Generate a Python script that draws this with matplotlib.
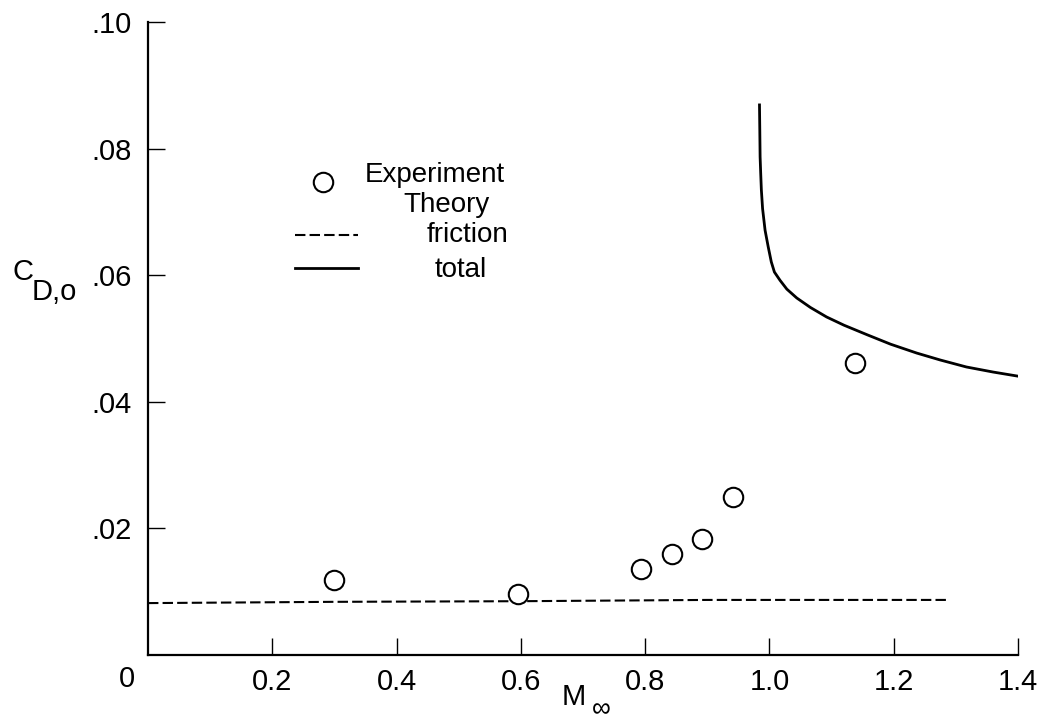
import matplotlib
matplotlib.use("Agg")
import matplotlib.pyplot as plt

plt.rcParams['font.family'] = ['Liberation Sans', 'DejaVu Sans']

# experiment
mach_exp = [0.30, 0.596, 0.793, 0.843, 0.891, 0.942, 1.138]
cd_exp = [0.0119, 0.0097, 0.0136, 0.0160, 0.0183, 0.0249, 0.0461]

# theory, friction
mach_fric = [0.0, 0.3, 0.6, 0.9, 1.29]
cd_fric = [0.0082, 0.0084, 0.0085, 0.0087, 0.0087]

# theory, total
mach_tot = [0.984, 0.9845, 0.985, 0.986, 0.987, 0.989, 0.993, 0.998, 1.003, 1.008,
            1.017, 1.028, 1.044, 1.066, 1.092, 1.12, 1.157, 1.195, 1.237, 1.275,
            1.317, 1.36, 1.403]
cd_tot = [0.0869, 0.0830, 0.0787, 0.0760, 0.0735, 0.0705, 0.0671, 0.0645, 0.0621, 0.0605,
          0.0592, 0.0578, 0.0564, 0.0549, 0.0534, 0.0521, 0.0506, 0.0491, 0.0477, 0.0466,
          0.0455, 0.0447, 0.0440]

xticks = [0.2, 0.4, 0.6, 0.8, 1.0, 1.2, 1.4]
xlabels = ["0.2", "0.4", "0.6", "0.8", "1.0", "1.2", "1.4"]
yticks = [0.02, 0.04, 0.06, 0.08, 0.10]
ylabels = [".02", ".04", ".06", ".08", ".10"]

W, H = 1041, 725
fig = plt.figure(figsize=(W / 100, H / 100), dpi=100)
L, R, B, T = 148, 1018, 655, 22
ax = fig.add_axes([L / W, 1 - B / H, (R - L) / W, (B - T) / H])

ax.plot(mach_fric, cd_fric, color="black", lw=1.5, dashes=(5, 2))
ax.plot(mach_tot, cd_tot, color="black", lw=2)
ax.plot(mach_exp, cd_exp, "o", ms=14, mfc="white", mec="black", mew=1.5)

ax.set_xlim(0, 1.4)
ax.set_ylim(0, 0.10)
ax.set_xticks(xticks, xlabels)
ax.set_yticks(yticks, ylabels)
ax.tick_params(direction="in", length=12, width=1, labelsize=21, colors="black")
ax.tick_params(axis="x", pad=9)
ax.tick_params(axis="y", pad=12)
for s in ["top", "right"]:
    ax.spines[s].set_visible(False)
for s in ["left", "bottom"]:
    ax.spines[s].set_linewidth(1.6)


def fx(px):
    return (px - L) / (R - L)


def fy(py):
    return (B - py) / (B - T)


# legend drawn by hand
ax.plot([fx(323)], [fy(182)], "o", ms=14, mfc="white", mec="black", mew=1.5,
        transform=ax.transAxes)
ax.plot([fx(295), fx(358)], [fy(235), fy(235)], color="black", lw=1.5, dashes=(5, 2),
        transform=ax.transAxes)
ax.plot([fx(295), fx(358)], [fy(268), fy(268)], color="black", lw=2,
        transform=ax.transAxes)
fs = 20
ax.text(fx(365), fy(182), "Experiment", fontsize=fs, va="baseline", transform=ax.transAxes)
ax.text(fx(403), fy(212), "Theory", fontsize=fs, va="baseline", transform=ax.transAxes)
ax.text(fx(427), fy(242), "friction", fontsize=fs, va="baseline", transform=ax.transAxes)
ax.text(fx(435), fy(277), "total", fontsize=fs, va="baseline", transform=ax.transAxes)

# origin label and axis titles
fig.text(127 / W, 1 - 679 / H, "0", fontsize=21, ha="center", va="center")
fig.text(12 / W, 1 - 280 / H, "C", fontsize=21, va="baseline")
fig.text(32 / W, 1 - 300 / H, "D,o", fontsize=21, va="baseline")
fig.text(562 / W, 1 - 705 / H, "M", fontsize=21, va="baseline")
fig.text(592 / W, 1 - 716 / H, "\u221e", fontsize=19, va="baseline")

fig.savefig("out.png", dpi=100)
